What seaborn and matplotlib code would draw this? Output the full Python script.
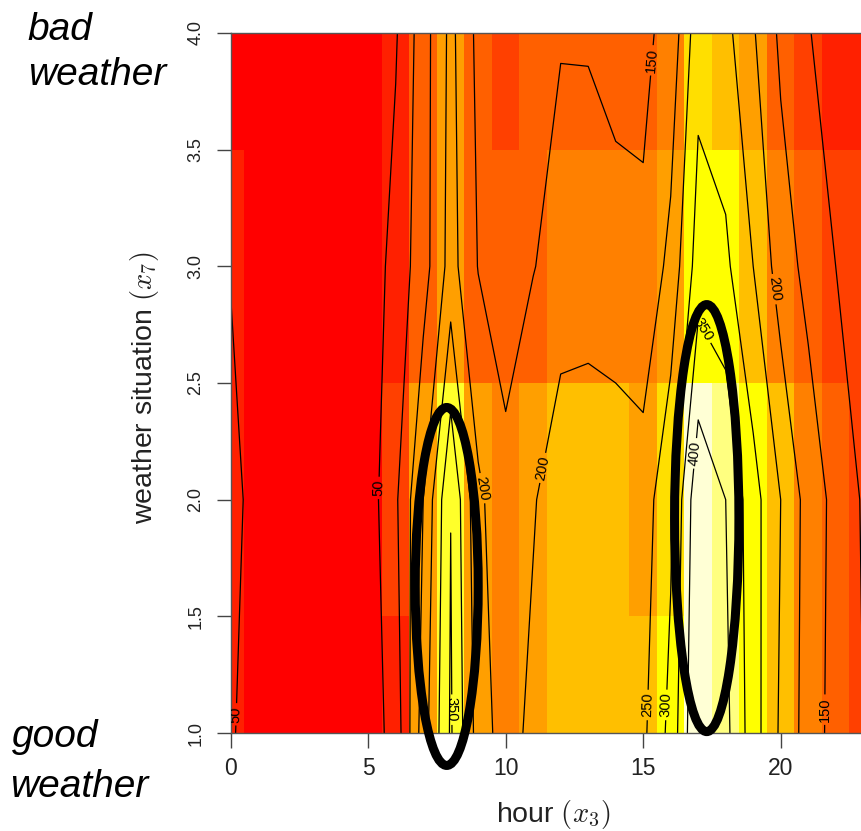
import numpy as np
import pandas as pd
import matplotlib
matplotlib.use("Agg")
import matplotlib.pyplot as plt
import matplotlib.transforms as mtransforms
from matplotlib.colors import ListedColormap, BoundaryNorm
from matplotlib.patches import Ellipse
import seaborn as sns

# ---------------- data ----------------
hours = list(range(24))
weather = [1, 2, 3, 4]

# predicted bike counts, one list per weather situation (hour 0..23)
pred_w1 = [55, 27, 18, 10, 8, 22, 70, 225, 356, 228, 175, 215, 240, 245, 240, 240, 315, 455, 414, 323, 242, 178, 131, 100]
pred_w2 = [60, 38, 25, 15, 12, 25, 92, 200, 349, 210, 167, 195, 235, 245, 235, 225, 290, 440, 400, 320, 250, 180, 135, 95]
pred_w3 = [48.5, 28, 18, 12, 10, 20, 68, 128, 219, 148, 122, 148, 170, 168, 165, 158, 215, 323, 310, 250, 175, 135, 100, 95]
pred_w4 = [35, 20, 12, 8, 5, 15, 45, 127, 213, 137, 105, 125, 147, 147, 137, 140, 165, 282, 265, 205, 140, 105, 58, 55]

contour_levels = [50, 100, 150, 200, 250, 300, 350, 400]
heat_colors = ["#FF0000", "#FF2000", "#FF4000", "#FF6000", "#FF8000", "#FF9F00",
               "#FFBF00", "#FFDF00", "#FFFF00", "#FFFF2A", "#FFFF80", "#FFFFD5"]

x_ticks = [0, 5, 10, 15, 20]
y_ticks = [1.0, 1.5, 2.0, 2.5, 3.0, 3.5, 4.0]
y_tick_labels = ["1.0", "1.5", "2.0", "2.5", "3.0", "3.5", "4.0"]

# where the contour labels sit (hour, weather), as in the original figure
label_spots = [(0.23, 1.08), (5.5, 2.05), (8.05, 1.1), (9.2, 2.05), (11.18, 2.14),
               (15.6, 3.88), (17.2, 2.73), (16.75, 2.2), (19.6, 2.9),
               (15.18, 1.12), (15.9, 1.12), (21.65, 1.1)]

# highlight ellipses: (hour centre, weather centre, width in hours, height in weather units)
highlights = [(7.855, 1.628, 2.29, 1.534), (17.31, 1.921, 2.34, 1.83)]

# ---------------- figure ----------------
sns.set_theme(style="white")
plt.rcParams["font.family"] = ["Liberation Sans", "DejaVu Sans"]
plt.rcParams["mathtext.fontset"] = "cm"

W, H = 861, 831
fig = plt.figure(figsize=(W / 100, H / 100), dpi=100)
x0, y_top, y_bot = 230.7, 33, 733
ax = fig.add_axes([x0 / W, 1 - y_bot / H, (W - x0) / W, (y_bot - y_top) / H])

df = pd.DataFrame([pred_w1, pred_w2, pred_w3, pred_w4], index=weather, columns=hours)
Z = df.values.astype(float)
bounds = np.linspace(Z.min(), Z.max(), len(heat_colors) + 1)
cmap = ListedColormap(heat_colors)
cmap.set_over(heat_colors[-1])
cmap.set_under(heat_colors[0])
norm = BoundaryNorm(bounds, len(heat_colors))

sns.heatmap(df, ax=ax, cmap=cmap, norm=norm, cbar=False)

ax.set_xlim(hours[0] + 0.5, hours[0] + 0.5 + (W - x0) / 27.5)
ax.set_ylim(0.5, 3.5)

# heatmap cells are centred at i+0.5; map (hour, weather) to that grid
shift = mtransforms.Affine2D().translate(0.5, 0.5 - weather[0])
to_cells = shift + ax.transData

cs = ax.contour(np.array(hours), np.array(weather), Z, levels=contour_levels,
                colors="black", linewidths=0.9, transform=to_cells)
manual = [tuple(shift.transform(p)) for p in label_spots]
ax.clabel(cs, fmt="%d", fontsize=10.5, inline=True, inline_spacing=3, manual=manual)

for (cx, cy, ew, eh) in highlights:
    ax.add_patch(Ellipse((cx, cy), ew, eh, fill=False, edgecolor="black",
                         linewidth=6.5, transform=to_cells, clip_on=False, zorder=5))

ax.set_xticks([h + 0.5 for h in x_ticks])
ax.set_xticklabels([str(h) for h in x_ticks], rotation=0)
ax.set_yticks([w - weather[0] + 0.5 for w in y_ticks])
ax.set_yticklabels(y_tick_labels, rotation=90, va="center")

for name, sp in ax.spines.items():
    sp.set_visible(name != "right")
    sp.set_color("#555555")
    sp.set_linewidth(1.0)

ax.tick_params(axis="x", length=11, width=1, color="#444444", pad=6,
               labelsize=16.5, bottom=True, labelcolor="#222222")
ax.tick_params(axis="y", length=10, width=1, color="#444444", pad=9,
               labelsize=13, left=True, labelcolor="#222222")

ax.set_xlabel(r"hour $(x_3)$", fontsize=20.5, color="#222222")
ax.xaxis.set_label_coords(0.511, -0.093)
ax.set_ylabel(r"weather situation $(x_7)$", fontsize=20.5, color="#222222", va="center")
ax.yaxis.set_label_coords(-0.136, 0.493)

def ftext(px, py, s):
    fig.text(px / W, 1 - py / H, s, fontsize=28, style="italic",
             va="baseline", ha="left", color="black")

ftext(27, 40, "bad")
ftext(28, 85, "weather")
ftext(12, 747, "good")
ftext(10, 797, "weather")

fig.savefig("out.png", dpi=100)
